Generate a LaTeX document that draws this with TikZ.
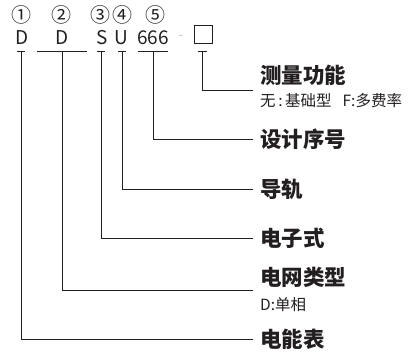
\documentclass[tikz,border=0pt]{standalone}
\usepackage{fontspec}
\setmainfont{Noto Sans CJK SC}
\definecolor{ink}{HTML}{231F20}
\definecolor{dashgray}{HTML}{BBBBBB}
\begin{document}
\begin{tikzpicture}[x=1pt,y=-1pt,
  ln/.style={line width=0.9pt, draw=ink},
  num/.style={font=\fontsize{20}{20}\selectfont, inner sep=0pt, text=ink},
  code/.style={font=\fontsize{19}{19}\selectfont, inner sep=0pt, text=ink},
  title/.style={font=\fontsize{21.5}{22}\selectfont\bfseries, anchor=west, inner sep=0pt, inner xsep=7pt, text=ink},
  subt/.style={font=\fontsize{15.5}{16}\selectfont, anchor=west, inner sep=0pt, text=ink},
  boxnode/.style={draw=ink, line width=0.8pt, minimum width=18pt, minimum height=18pt, inner sep=0pt}]
\useasboundingbox (0,0) rectangle (408,353);
% circled numbers
\node[num] (n1) at (22,15) {①};
\node[num] (n2) at (62,15) {②};
\node[num] (n3) at (100,15) {③};
\node[num] (n4) at (122,15) {④};
\node[num] (n5) at (155,15) {⑤};
% code letters
\node[code] (c1) at (22,38) {D};
\node[code] (c2) at (62,38) {D};
\node[code] (c3) at (102,38) {S};
\node[code] (c4) at (121,38) {U};
\node[code] (c5) at (153,38) {666};
\node[code, text=dashgray, font=\fontsize{12}{12}\selectfont] (dash) at (181,38) {-};
\node[boxnode] (c6) at (203,34) {};
% tick coordinates
\coordinate (t1) at (21,51);
\coordinate (t2) at (62,51);
\coordinate (t3) at (101,51);
\coordinate (t4) at (122,51);
\coordinate (t5) at (153,51);
\coordinate (t6) at (202,51);
\draw[ln] ([xshift=-4pt]t1) -- ([xshift=4pt]t1);
\draw[ln] ([xshift=-25pt]t2) -- ([xshift=25pt]t2);
\draw[ln] ([xshift=-4pt]t3) -- ([xshift=4pt]t3);
\draw[ln] ([xshift=-4pt]t4) -- ([xshift=4pt]t4);
\draw[ln] ([xshift=-15pt]t5) -- ([xshift=15pt]t5);
\draw[ln] ([xshift=-4.5pt]t6) -- ([xshift=4.5pt]t6);
% labels
\node[title] (l6) at (253,75.5) {测量功能};
\node[subt] (s6) at (260,101) {无\,:\,基础型\hspace{11pt}F:多费率};
\coordinate (e6) at (253,90);
\node[title] (l5) at (253,139) {设计序号};
\node[title] (l4) at (253,189) {导轨};
\node[title] (l3) at (253,238) {电子式};
\node[title] (l2) at (253,277.5) {电网类型};
\node[subt] (s2) at (260,304.5) {D:单相};
\coordinate (e2) at (253,290);
\node[title] (l1) at (253,339) {电能表};
% connectors
\draw[ln] (t6) |- (e6);
\draw[ln] (t5) |- (l5.west);
\draw[ln] (t4) |- (l4.west);
\draw[ln] (t3) |- (l3.west);
\draw[ln] (t2) |- (e2);
\draw[ln] (t1) |- (l1.west);
\end{tikzpicture}
\end{document}
